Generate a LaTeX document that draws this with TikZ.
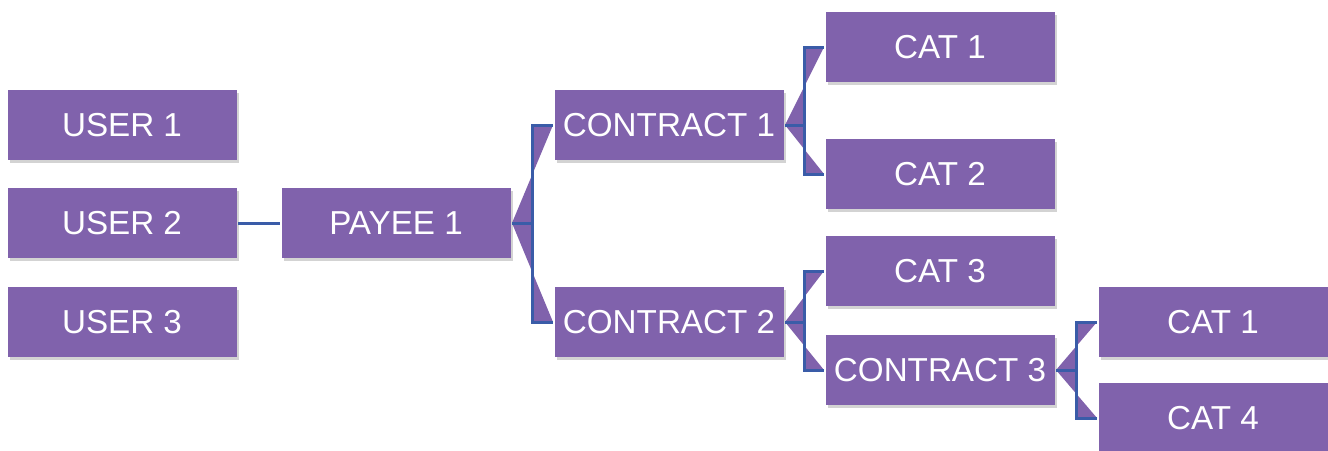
\documentclass[tikz,border=0pt]{standalone}
\usepackage{fontspec}
\setmainfont{Liberation Sans}
\usetikzlibrary{
  calc,
  positioning,
  shadows}
\definecolor{boxpurple}{RGB}{128,98,172}
\definecolor{linkblue}{RGB}{58,92,168}

\begin{document}
\begin{tikzpicture}[
  x=0.5pt,y=-0.5pt,
  line width=1.5pt,
  box/.style={fill=boxpurple,text=white,minimum width=114.5pt,minimum height=35pt,
    inner sep=0pt,font=\fontsize{16.6}{17}\selectfont,
    drop shadow={opacity=0.35,shadow xshift=1.2pt,shadow yshift=-1.5pt}},
  link/.style={draw=linkblue,line width=1.5pt},
  wedge/.style={fill=boxpurple}
]%
  \useasboundingbox (0,0) rectangle (1328,450);

  % left column
  \node[box] (u1) at (122,125) {USER 1};
  \node[box] (u2) at (122,223) {USER 2};
  \node[box] (u3) at (122,322) {USER 3};

  \node[box] (p1) at (396,223) {PAYEE 1};

  \node[box] (c1) at (669,125) {CONTRACT 1};
  \node[box] (c2) at (669,322) {CONTRACT 2};

  \node[box] (k1) at (940,47)  {CAT 1};
  \node[box] (k2) at (940,174) {CAT 2};
  \node[box] (k3) at (940,271) {CAT 3};
  \node[box] (c3) at (940,370) {CONTRACT 3};

  \node[box] (k5) at (1213,322) {CAT 1};
  \node[box] (k4) at (1213,418) {CAT 4};

  \draw[link] (u2.east) -- (p1.west);

  % forks
  \foreach \p/\c in {p1/c1,p1/c2,c1/k1,c1/k2,c2/k3,c2/c3,c3/k5,c3/k4}{
    \coordinate (m) at ($(\p.east)!0.5!(\c.west)$);
    \fill[wedge] (\p.east) -- (m |- \p.east) -- (m |- \c.west) -- (\c.west) -- cycle;
    \draw[link] (\p.east) -- (m |- \p.east) -- (m |- \c.west) -- (\c.west);
  }
\end{tikzpicture}
\end{document}
